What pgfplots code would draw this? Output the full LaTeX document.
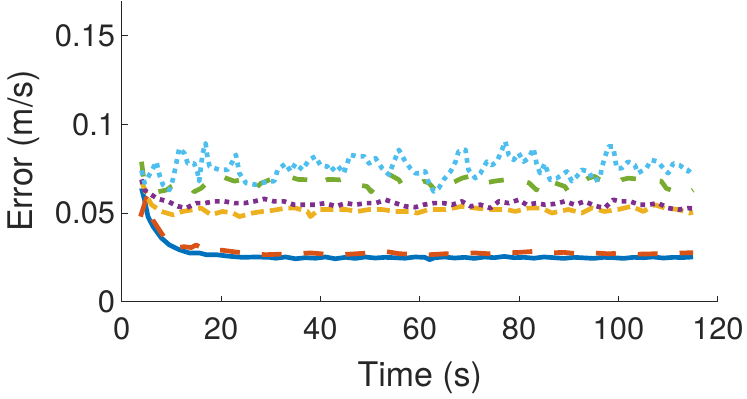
\documentclass[border=0pt]{standalone}
\usepackage{fontspec}
\setmainfont{TeX Gyre Heros}
\usepackage{pgfplots}
\pgfplotsset{compat=1.18}

\definecolor{mblue}{rgb}{0,0.447,0.741}
\definecolor{morange}{rgb}{0.85,0.325,0.098}
\definecolor{myellow}{rgb}{0.929,0.694,0.125}
\definecolor{mpurple}{rgb}{0.494,0.184,0.556}
\definecolor{mgreen}{rgb}{0.466,0.674,0.188}
\definecolor{mcyan}{rgb}{0.301,0.745,0.933}
\definecolor{axgray}{rgb}{0.15,0.15,0.15}

\begin{document}
\begin{tikzpicture}
\begin{axis}[
    scale only axis,
    width=598pt, height=302pt,
    xmin=0, xmax=120, ymin=0, ymax=0.17,
    axis lines=left,
    axis line style={-, line width=1pt, draw=axgray},
    tick align=inside,
    major tick length=6pt,
    tick style={line width=1pt, draw=axgray},
    xtick={0,20,40,60,80,100,120},
    ytick={0,0.05,0.1,0.15},
    yticklabels={0,0.05,0.1,0.15},
    /pgf/number format/assume math mode=true,
    tick label style={font=\fontsize{31}{36}\selectfont, color=axgray},
    xticklabel style={yshift=-12pt},
    yticklabel style={xshift=-3pt},
    label style={font=\fontsize{34}{40}\selectfont, color=axgray},
    xlabel={Time (s)},
    ylabel={Error (m/s)},
    xlabel style={at={(axis description cs:0.5,-0.2815)}, anchor=base},
    ylabel style={at={(axis description cs:-0.1488,0.5)}, anchor=base},
    every axis plot post/.append style={line width=4.7pt, line join=round},
    clip=false,
]
% blue, solid
\addplot[mblue] coordinates {
 (4,0.064) (4.6,0.0575) (5.3,0.048) (6.3,0.0425) (8,0.0359) (9.6,0.032)
 (11.6,0.0293) (13.6,0.0275) (15.6,0.0275) (17,0.0265) (19,0.0265)
 (21.7,0.0256) (24.3,0.025) (27,0.0252) (29.7,0.025) (31,0.0245)
 (33,0.0252) (35,0.0242) (37,0.0248) (39,0.0245) (41,0.0252) (43,0.0242)
 (45,0.025) (47,0.0244) (49,0.0252) (51,0.0246) (53,0.025) (55,0.0248)
 (57,0.0245) (59,0.0252) (61,0.025) (62,0.0237) (63,0.0248) (65,0.0252)
 (67,0.0246) (69,0.025) (71,0.0244) (73,0.0252) (75,0.0248) (77,0.0255)
 (79,0.0248) (81,0.025) (83,0.0245) (85,0.0252) (87,0.0248) (89,0.0244)
 (91,0.025) (93,0.0247) (95,0.0244) (97,0.025) (99,0.0248) (101,0.0244)
 (103,0.025) (105,0.0248) (107,0.0252) (109,0.0246) (111,0.025)
 (113,0.0249) (115,0.0252)
};
% orange, long dashes
\addplot[morange, dash pattern=on 20pt off 22pt] coordinates {
 (3.8,0.048) (5,0.0585) (6.3,0.046) (8,0.0387) (9.6,0.032) (11,0.0305)
 (12.6,0.031) (14,0.0305) (15,0.032) (17,0.029) (20.3,0.029) (23,0.028)
 (26,0.027) (29,0.0265) (32,0.0268) (35,0.027) (38,0.0275) (41,0.0268)
 (44,0.0265) (47,0.027) (50,0.0275) (53,0.0284) (56,0.027) (59,0.0268)
 (62,0.0265) (65,0.027) (68,0.027) (71,0.0275) (74,0.027) (77,0.0275)
 (80,0.0278) (83,0.0284) (86,0.0275) (89,0.0278) (92,0.027) (95,0.0275)
 (98,0.027) (101,0.0275) (104,0.0268) (107,0.027) (110,0.0272)
 (113,0.0275) (115,0.0276)
};
% yellow, short dashes
\addplot[myellow, dash pattern=on 13pt off 6pt] coordinates {
 (4,0.068) (5.3,0.0584) (6,0.0547) (8,0.0509) (10.3,0.049) (12.3,0.0509)
 (14.6,0.052) (16,0.0528) (18,0.049) (20.3,0.0509) (22.4,0.050)
 (23.7,0.048) (26.3,0.050) (28.3,0.0509) (30.4,0.0515) (33,0.0528)
 (35,0.0528) (37.4,0.0509) (38,0.048) (39.7,0.052) (42.4,0.052)
 (45.1,0.052) (47.4,0.0509) (49.8,0.052) (52.4,0.052) (55.1,0.0509)
 (57.8,0.0509) (59.5,0.050) (61.8,0.052) (65.2,0.052) (68.5,0.0538)
 (71.2,0.0528) (74.5,0.052) (77.5,0.052) (79.2,0.0509) (81.9,0.0528)
 (84.5,0.0528) (86.6,0.050) (89.9,0.052) (92.6,0.050) (94.6,0.0528)
 (97.2,0.0509) (99.9,0.052) (102.6,0.0538) (105,0.0509) (107.3,0.0547)
 (109.3,0.0528) (112,0.052) (114.3,0.050) (115,0.0505)
};
% purple, dotted
\addplot[mpurple, dash pattern=on 4.7pt off 5pt] coordinates {
 (4,0.069) (4.6,0.063) (5.6,0.061) (7.3,0.058) (9.3,0.0566) (11.3,0.0538)
 (13,0.0528) (15,0.0556) (16.7,0.0556) (18.7,0.0566) (20.7,0.0566)
 (22.7,0.0556) (24.7,0.0556) (26.7,0.0566) (28.7,0.058) (30.7,0.0566)
 (32.7,0.0566) (34.7,0.0547) (36.7,0.0547) (39,0.0547) (41,0.0556)
 (43.1,0.0538) (45.1,0.0556) (47.1,0.0547) (49.1,0.0556) (51.1,0.0556)
 (53.1,0.0575) (55.1,0.0556) (57.1,0.0538) (59.1,0.0533) (60.8,0.0547)
 (62.8,0.0556) (64.8,0.0556) (66.5,0.0547) (68.5,0.0566) (70.2,0.0538)
 (72.2,0.0547) (74.2,0.0528) (75.9,0.0566) (77.9,0.0556) (79.9,0.0575)
 (81.5,0.0547) (83.5,0.0556) (85.2,0.0547) (87.2,0.0552) (89.2,0.0566)
 (91.2,0.0547) (93.2,0.0566) (95.2,0.0541) (97.2,0.0528) (98.9,0.0575)
 (100.3,0.0566) (102.3,0.0566) (104.3,0.0547) (106,0.0547) (108,0.0556)
 (110,0.0528) (112,0.0519) (114,0.0528) (115,0.0525)
};
% green, sparse dashes
\addplot[mgreen, dash pattern=on 15pt off 24pt] coordinates {
 (4,0.079) (4.6,0.066) (6,0.064) (7.3,0.062) (9,0.063) (10,0.065)
 (11.5,0.067) (13.3,0.066) (14.6,0.062) (16,0.064) (17.5,0.068)
 (19.7,0.0716) (21,0.0697) (22.7,0.068) (24.5,0.069) (26,0.0688)
 (27,0.064) (28,0.0668) (30,0.069) (32,0.0716) (33.7,0.0705) (35.5,0.069)
 (37.7,0.0688) (38.5,0.065) (39.7,0.067) (41.5,0.069) (44,0.0688)
 (45,0.0697) (46,0.067) (47.5,0.066) (49.4,0.065) (50.2,0.062)
 (51.4,0.066) (53.4,0.0725) (55.8,0.0688) (56.4,0.066) (58,0.065)
 (59.8,0.066) (60.8,0.068) (61.8,0.067) (63.1,0.063) (65.2,0.068)
 (66.5,0.067) (68.5,0.0697) (71.2,0.0716) (73.2,0.067) (75,0.068)
 (77.2,0.0688) (80.2,0.0688) (82,0.067) (83.5,0.063) (84.2,0.068)
 (85.2,0.0697) (87.2,0.067) (89.2,0.065) (89.9,0.062) (91,0.064)
 (93.9,0.0697) (95.2,0.0707) (96.2,0.0688) (98,0.067) (99.6,0.066)
 (100.6,0.0688) (102,0.0697) (104.5,0.069) (106.6,0.0688) (108.6,0.068)
 (109.6,0.064) (111.5,0.062) (113,0.060) (114,0.061) (115,0.063)
};
% cyan, dotted
\addplot[mcyan, dash pattern=on 4.7pt off 5pt] coordinates {
 (4,0.074) (4.6,0.067) (6,0.0735) (7,0.079) (7.6,0.0716) (8.3,0.066)
 (9.6,0.063) (10.3,0.0688) (11,0.078) (11.6,0.0866) (12.6,0.0838)
 (13.3,0.078) (14.6,0.078) (15.3,0.0725) (15.6,0.068) (16.3,0.0838)
 (16.9,0.0894) (17.3,0.081) (17.7,0.0763) (19.7,0.0744) (21.3,0.0744)
 (22.3,0.079) (23,0.0829) (23.7,0.0725) (25,0.067) (27,0.066)
 (29.7,0.068) (30.7,0.068) (31.4,0.0744) (33,0.078) (34,0.0735) (35,0.078)
 (36.4,0.0744) (37.7,0.080) (39,0.082) (40,0.077) (41.4,0.0763)
 (42,0.0735) (43.4,0.077) (44.7,0.0725) (45.4,0.078) (46,0.0829)
 (47.4,0.082) (48.8,0.082) (49.8,0.078) (51.1,0.081) (52.4,0.0753)
 (53.8,0.0716) (54.8,0.079) (55.8,0.0857) (57.1,0.079) (58.1,0.0753)
 (59.1,0.0725) (59.8,0.0725) (61.1,0.0735) (61.8,0.067) (62.8,0.0622)
 (63.8,0.064) (64.8,0.0688) (66.2,0.0735) (67.2,0.079) (67.8,0.0847)
 (69.2,0.0857) (69.8,0.0744) (71.2,0.0697) (72.2,0.0725) (73.5,0.079)
 (74.5,0.077) (75.5,0.079) (76.4,0.0847) (77.2,0.0904) (77.9,0.0829)
 (78.9,0.080) (79.9,0.0838) (80.9,0.079) (81.9,0.081) (82.9,0.0866)
 (83.5,0.078) (84.2,0.0725) (85.2,0.078) (86.2,0.0688) (87.6,0.0697)
 (89.6,0.0735) (90.6,0.068) (91.6,0.0707) (92.6,0.0744) (94,0.0735)
 (95,0.068) (96.3,0.0697) (96.6,0.0753) (97.3,0.082) (98,0.0876)
 (98.9,0.0876) (99.3,0.081) (99.6,0.0753) (100.6,0.0753) (101.9,0.079)
 (103.3,0.077) (103.9,0.0725) (105.6,0.0753) (106.6,0.080) (107.9,0.079)
 (109.3,0.0744) (110,0.0725) (111,0.078) (112.3,0.077) (114,0.0735)
 (115,0.077)
};
\end{axis}
\path (-122pt,-97pt) rectangle (625pt,302pt);
\end{tikzpicture}
\end{document}
